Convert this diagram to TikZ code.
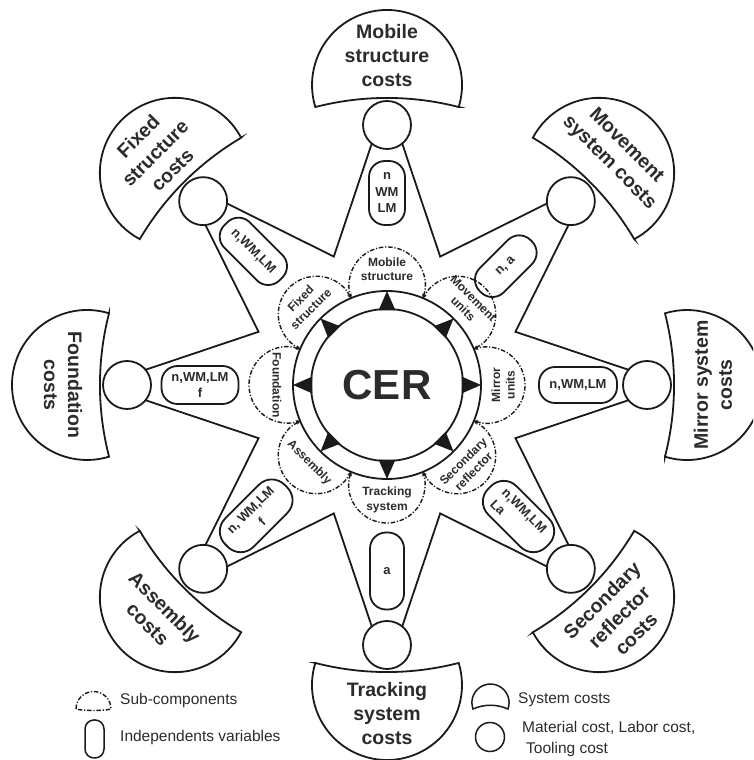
\documentclass[tikz,border=0pt]{standalone}
\usepackage{fontspec}
\setmainfont{Liberation Sans}
\usetikzlibrary{calc,arrows.meta}
\definecolor{ink}{HTML}{1A1A1A}
\definecolor{txt}{HTML}{2B2B2B}
\tikzset{
  line/.style={draw=ink, line width=1.8pt},
  syscost/.style={font=\fontsize{19.5}{24}\selectfont\bfseries, text=txt, align=center, inner sep=0pt},
  subtxt/.style={font=\fontsize{12}{14.5}\selectfont\bfseries, text=txt, align=center, inner sep=0pt},
  pill/.style={draw=ink, line width=1.8pt, fill=white, rounded corners=16pt, inner sep=0pt,
    font=\fontsize{13}{16.5}\selectfont\bfseries, text=txt, align=center},
  matcirc/.style={circle, draw=ink, line width=1.8pt, fill=white, minimum size=48pt, inner sep=0pt},
  subarc/.style={draw=ink, line width=1.4pt, dash pattern=on 4.5pt off 1.8pt on 1.2pt off 1.8pt},
  legtxt/.style={font=\fontsize{15.5}{21}\selectfont, text=txt, anchor=west, align=left, inner sep=0pt},
  tip/.style={fill=ink}
}
\begin{document}
\begin{tikzpicture}[x=1pt,y=1pt]
\useasboundingbox (0,0) rectangle (753,760);
\clip (0,0) rectangle (753,760);
\coordinate (C) at (387,375);

% star geometry
\foreach \k in {0,...,7}{
  \pgfmathsetmacro\t{90-45*\k}
  \pgfmathsetmacro\tp{\t+90}
  \pgfmathsetmacro\tm{\t-90}
  \pgfmathsetmacro\tv{\t-22.5}
  \coordinate (q\k) at ($(C)+(\t:260)$);
  \coordinate (a\k) at ($(C)+(\t:260)+(\tp:9)$);
  \coordinate (b\k) at ($(C)+(\t:260)+(\tm:9)$);
  \coordinate (v\k) at ($(C)+(\tv:139)$);
}
\draw[line, line join=miter] (v7) \foreach \k in {0,...,7}{ -- (a\k) -- (b\k) -- (v\k) } -- cycle;

% system cost shapes
\foreach \t in {90,45,0,-45,-90,-135,180,135}{
  \pgfmathsetmacro\sa{\t-107.1}
  \pgfmathsetmacro\ea{\t+107.1}
  \pgfmathsetmacro\sb{\t+14.47}
  \pgfmathsetmacro\eb{\t-14.47}
  \draw[line, fill=white] ($(C)+(\t:300)+(\sa:75)$)
    arc[start angle=\sa, end angle=\ea, radius=75]
    arc[start angle=\sb, end angle=\eb, radius=287] -- cycle;
}

% material / labor / tooling circles
\foreach \k in {0,...,7}{
  \node[matcirc] (m\k) at (q\k) {};
}

% independent variable pills
\node[pill, minimum width=36pt, minimum height=64pt] (p0) at ($(C)+(90:192)$) {n\\WM\\LM};
\node[pill, rotate=45, minimum width=72pt, minimum height=34pt] (p1) at ($(C)+(45:168)$) {n, a};
\node[pill, minimum width=78pt, minimum height=36pt] (p2) at ($(C)+(0:191)$) {n,WM,LM};
\node[pill, rotate=-45, minimum width=82pt, minimum height=40pt, rounded corners=18pt, align=left] (p3) at ($(C)+(-45:186)$) {n,WM,LM\\La};
\node[pill, minimum width=34pt, minimum height=77pt] (p4) at ($(C)+(-90:186)$) {a};
\node[pill, rotate=45, minimum width=84pt, minimum height=40pt, rounded corners=18pt] (p5) at ($(C)+(-135:185)$) {n, WM,LM\\f};
\node[pill, minimum width=77pt, minimum height=38pt] (p6) at ($(C)+(180:187)$) {n,WM,LM\\f};
\node[pill, rotate=-45, minimum width=78pt, minimum height=36pt] (p7) at ($(C)+(135:189)$) {n,WM,LM};

% outer ring
\draw[line, fill=white] (C) circle[radius=94];

% sub-component dashed arcs
\foreach \t in {90,45,0,-45,-90,-135,180,135}{
  \pgfmathsetmacro\sa{\t-110}
  \pgfmathsetmacro\ea{\t+110}
  \draw[subarc, {Stealth[length=4pt,width=4pt]}-{Stealth[length=4pt,width=4pt]}]
    ($(C)+(\t:100)+(\sa:38)$) arc[start angle=\sa, end angle=\ea, radius=38];
}

% CER core
\node[circle, draw=ink, line width=1.8pt, fill=white, minimum size=152pt, inner sep=0pt,
  font=\fontsize{42}{46}\selectfont\bfseries, text=txt] (cer) at (C) {CER};
\foreach \a in {0,45,...,315}{
  \pgfmathsetmacro\ap{\a+6.5}
  \pgfmathsetmacro\am{\a-6.5}
  \fill[tip] ($(C)+(\a:94)$) -- ($(C)+(\ap:75)$) -- ($(C)+(\am:75)$) -- cycle;
}

% sub-component labels
\node[subtxt] (s0) at ($(C)+(90:116)$) {Mobile\\structure};
\node[subtxt, rotate=-45] (s1) at ($(C)+(45:115)$) {Movement\\units};
\node[subtxt, rotate=90] (s2) at ($(C)+(0:116)$) {Mirror\\units};
\node[subtxt, rotate=45] (s3) at ($(C)+(-45:115)$) {Secondary\\reflector};
\node[subtxt] (s4) at ($(C)+(-90:115)$) {Tracking\\system};
\node[subtxt, rotate=-45] (s5) at ($(C)+(-135:110)$) {Assembly};
\node[subtxt, rotate=-90] (s6) at ($(C)+(180:110)$) {Foundation};
\node[subtxt, rotate=45] (s7) at ($(C)+(135:115)$) {Fixed\\structure};

% system cost labels
\node[syscost] (c0) at ($(C)+(90:329)$) {Mobile\\structure\\costs};
\node[syscost, rotate=-45] (c1) at ($(C)+(45:326)$) {Movement\\system costs};
\node[syscost, rotate=90] (c2) at ($(C)+(0:326)$) {Mirror system\\costs};
\node[syscost, rotate=45] (c3) at ($(C)+(-45:328)$) {Secondary\\reflector\\costs};
\node[syscost] (c4) at ($(C)+(-90:329)$) {Tracking\\system\\costs};
\node[syscost, rotate=-45] (c5) at ($(C)+(-135:326)$) {Assembly\\costs};
\node[syscost, rotate=-90] (c6) at ($(C)+(180:324)$) {Foundation\\costs};
\node[syscost, rotate=45] (c7) at ($(C)+(135:328)$) {Fixed\\structure\\costs};

% legend
\draw[subarc] (76,51) arc[start angle=180, end angle=0, radius=17.5]
  .. controls (104,49) and (83,49) .. cycle;
\node[legtxt] (l1) at (120,60) {Sub-components};
\draw[draw=ink, line width=1.5pt, rounded corners=9pt] (85,2) rectangle (104,40);
\node[legtxt] (l2) at (120,23) {Independents variables};
\draw[line, line width=1.5pt] (473,51) arc[start angle=200, end angle=-20, radius=18.6]
  .. controls (497,56) and (484,56) .. cycle;
\node[legtxt] (l3) at (518,60) {System costs};
\draw[draw=ink, line width=1.5pt] (490,23) circle[radius=14.5];
\node[legtxt] (l4) at (522,21) {Material cost, Labor cost,\\\hspace{4pt}Tooling cost};
\end{tikzpicture}
\end{document}
